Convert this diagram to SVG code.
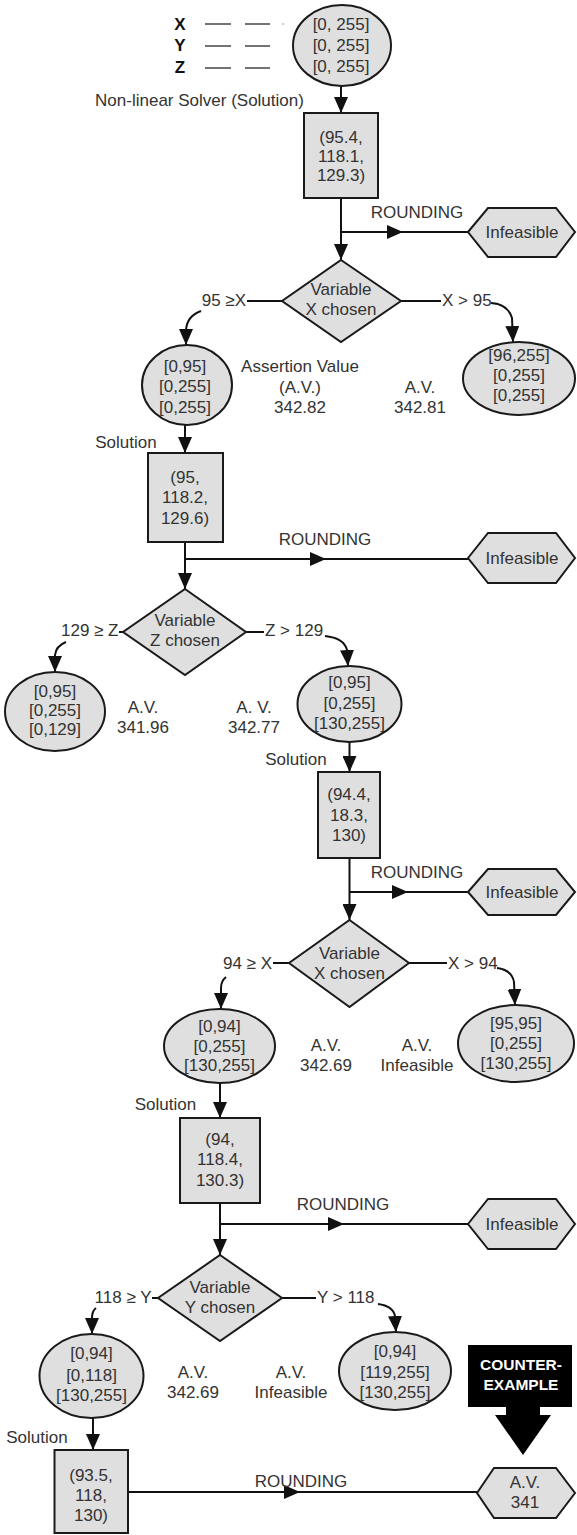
<svg xmlns="http://www.w3.org/2000/svg" width="577" height="1535" viewBox="0 0 577 1535">
<defs>
<style>
.t{font-family:"Liberation Sans",Arial,sans-serif;font-size:17px;fill:#333;text-anchor:middle}
.s{fill:#dfdfdf;stroke:#1a1a1a;stroke-width:2}
.c{fill:none;stroke:#111;stroke-width:2}
.leg{stroke:#444;stroke-width:1.5}
.b{font-family:"Liberation Sans",Arial,sans-serif;font-size:17px;font-weight:bold;fill:#111;text-anchor:middle}
.w{font-family:"Liberation Sans",Arial,sans-serif;font-size:15.5px;font-weight:bold;fill:#fff;text-anchor:middle}
</style>
<marker id="ah" viewBox="0 0 16 14" refX="16" refY="7" markerWidth="16" markerHeight="14" markerUnits="userSpaceOnUse" orient="auto"><path d="M0,0 L16,7 L0,14 z" fill="#111"/></marker>
</defs>
<rect width="577" height="1535" fill="#fff"/>

<g id="legend">
<text class="b" x="180" y="30">X</text>
<text class="b" x="180" y="51">Y</text>
<text class="b" x="180" y="73">Z</text>
<line class="leg" x1="205" y1="24" x2="231" y2="24"/><line class="leg" x1="245" y1="24" x2="270" y2="24"/><circle cx="283" cy="24" r="0.8" fill="#999"/>
<line class="leg" x1="205" y1="46" x2="231" y2="46"/><line class="leg" x1="245" y1="46" x2="270" y2="46"/>
<line class="leg" x1="205" y1="68" x2="231" y2="68"/><line class="leg" x1="245" y1="68" x2="270" y2="68"/>
</g>

<g id="connectors">
<line class="c" x1="341" y1="86" x2="341" y2="113" marker-end="url(#ah)"/>
<line class="c" x1="341" y1="198" x2="341" y2="260" marker-end="url(#ah)"/>
<polyline class="c" points="341,232 403,232 468,232" marker-mid="url(#ah)"/>
<line class="c" x1="247" y1="301" x2="282" y2="301"/>
<line class="c" x1="401" y1="301" x2="441" y2="301"/>
<path class="c" d="M201 311 Q187 316 186 330 L186 345" marker-end="url(#ah)"/>
<path class="c" d="M491 303 Q508 304 512 318 L513 342" marker-end="url(#ah)"/>
<line class="c" x1="185" y1="425" x2="185" y2="453" marker-end="url(#ah)"/>
<line class="c" x1="185" y1="542" x2="185" y2="589" marker-end="url(#ah)"/>
<polyline class="c" points="185,559 326,559 468,559" marker-mid="url(#ah)"/>
<line class="c" x1="119" y1="632" x2="123" y2="632"/>
<line class="c" x1="246" y1="632" x2="264" y2="632"/>
<path class="c" d="M66 642 Q56 646 55 655 L55 672" marker-end="url(#ah)"/>
<path class="c" d="M325 636 Q344 638 347 650 L348 666" marker-end="url(#ah)"/>
<line class="c" x1="349.5" y1="742" x2="349.5" y2="772" marker-end="url(#ah)"/>
<line class="c" x1="349.5" y1="858" x2="349.5" y2="920" marker-end="url(#ah)"/>
<polyline class="c" points="349.5,892 408,892 468,892" marker-mid="url(#ah)"/>
<line class="c" x1="273" y1="963" x2="289" y2="963"/>
<line class="c" x1="409" y1="963" x2="447" y2="963"/>
<path class="c" d="M226 977 Q221 981 221 988 L221 1009" marker-end="url(#ah)"/>
<path class="c" d="M497 968 Q512 970 514 982 L515 1005" marker-end="url(#ah)"/>
<line class="c" x1="220" y1="1083" x2="220" y2="1118" marker-end="url(#ah)"/>
<line class="c" x1="220" y1="1203" x2="220" y2="1255" marker-end="url(#ah)"/>
<polyline class="c" points="220,1224 344,1224 468,1224" marker-mid="url(#ah)"/>
<line class="c" x1="152" y1="1298" x2="158" y2="1298"/>
<line class="c" x1="282" y1="1298" x2="316" y2="1298"/>
<path class="c" d="M96 1308 Q92 1311 92 1318 L92 1334" marker-end="url(#ah)"/>
<path class="c" d="M378 1304 Q393 1306 395 1316 L396 1332" marker-end="url(#ah)"/>
<line class="c" x1="93" y1="1418" x2="93" y2="1450" marker-end="url(#ah)"/>
<polyline class="c" points="128,1492 300,1492 477,1492" marker-mid="url(#ah)"/>
</g>

<g id="n0"><ellipse class="s" cx="342" cy="45.5" rx="49" ry="40.5"/>
<text class="t" x="341" y="30">[0, 255]</text><text class="t" x="341" y="51">[0, 255]</text><text class="t" x="341" y="72">[0, 255]</text></g>
<text class="t" x="199.5" y="106">Non-linear Solver (Solution)</text>

<g id="r1"><rect class="s" x="304" y="113" width="74" height="85"/>
<text class="t" x="341" y="143">(95.4,</text><text class="t" x="341" y="162">118.1,</text><text class="t" x="341" y="181">129.3)</text></g>
<text class="t" x="417" y="218">ROUNDING</text>
<g id="h1"><polygon class="s" points="468,232 488,208 556,208 575,232 556,257 488,257"/><text class="t" x="522" y="238">Infeasible</text></g>

<g id="d1"><polygon class="s" points="341,260 401,301 341,342 282,301"/>
<text class="t" x="341" y="295">Variable</text><text class="t" x="341" y="315">X chosen</text></g>
<text class="t" x="246" y="306" style="text-anchor:end">95 ≥X</text>
<text class="t" x="442" y="306" style="text-anchor:start">X &gt; 95</text>

<g id="e1L"><ellipse class="s" cx="187" cy="385" rx="45" ry="40"/>
<text class="t" x="185" y="372">[0,95]</text><text class="t" x="185" y="392">[0,255]</text><text class="t" x="185" y="413">[0,255]</text></g>
<g id="e1R"><ellipse class="s" cx="519" cy="378.5" rx="56" ry="36.5"/>
<text class="t" x="519" y="361">[96,255]</text><text class="t" x="519" y="381">[0,255]</text><text class="t" x="519" y="401">[0,255]</text></g>
<text class="t" x="300" y="372">Assertion Value</text><text class="t" x="300" y="393">(A.V.)</text><text class="t" x="300" y="413">342.82</text>
<text class="t" x="420" y="393">A.V.</text><text class="t" x="420" y="413">342.81</text>

<text class="t" x="126" y="448">Solution</text>
<g id="r2"><rect class="s" x="148" y="453" width="75" height="89"/>
<text class="t" x="185" y="483">(95,</text><text class="t" x="185" y="503">118.2,</text><text class="t" x="185" y="524">129.6)</text></g>
<text class="t" x="325" y="545">ROUNDING</text>
<g id="h2"><polygon class="s" points="468,558 488,533 556,533 575,558 556,583 488,583"/><text class="t" x="522" y="564">Infeasible</text></g>

<g id="d2"><polygon class="s" points="185,589 246,632 185,675 123,632"/>
<text class="t" x="185" y="626">Variable</text><text class="t" x="185" y="646">Z chosen</text></g>
<text class="t" x="118.5" y="636" style="text-anchor:end">129 ≥ Z</text>
<text class="t" x="265" y="636" style="text-anchor:start">Z &gt; 129</text>

<g id="e2L"><ellipse class="s" cx="55" cy="711.5" rx="50" ry="39.5"/>
<text class="t" x="55" y="697">[0,95]</text><text class="t" x="55" y="716">[0,255]</text><text class="t" x="55" y="735">[0,129]</text></g>
<text class="t" x="143" y="713">A.V.</text><text class="t" x="143" y="733">341.96</text>
<text class="t" x="254" y="713">A. V.</text><text class="t" x="254" y="733">342.77</text>
<g id="e2R"><ellipse class="s" cx="349.5" cy="704" rx="52" ry="38"/>
<text class="t" x="349.5" y="688">[0,95]</text><text class="t" x="349.5" y="709">[0,255]</text><text class="t" x="349.5" y="729">[130,255]</text></g>

<text class="t" x="296" y="765">Solution</text>
<g id="r3"><rect class="s" x="318" y="772" width="62" height="86"/>
<text class="t" x="349" y="800">(94.4,</text><text class="t" x="349" y="821">18.3,</text><text class="t" x="349" y="841">130)</text></g>
<text class="t" x="417" y="878">ROUNDING</text>
<g id="h3"><polygon class="s" points="468,892 488,869 556,869 575,892 556,915 488,915"/><text class="t" x="522" y="898">Infeasible</text></g>

<g id="d3"><polygon class="s" points="349.5,920 409,963 349.5,1007 289,963"/>
<text class="t" x="349.5" y="959">Variable</text><text class="t" x="349.5" y="979">X chosen</text></g>
<text class="t" x="272" y="969" style="text-anchor:end">94 ≥ X</text>
<text class="t" x="448" y="969" style="text-anchor:start">X &gt; 94</text>

<g id="e3L"><ellipse class="s" cx="219.5" cy="1046" rx="55.5" ry="37"/>
<text class="t" x="219.5" y="1032">[0,94]</text><text class="t" x="219.5" y="1052">[0,255]</text><text class="t" x="219.5" y="1071">[130,255]</text></g>
<text class="t" x="326" y="1051">A.V.</text><text class="t" x="326" y="1071">342.69</text>
<text class="t" x="417" y="1051">A.V.</text><text class="t" x="417" y="1071">Infeasible</text>
<g id="e3R"><ellipse class="s" cx="516" cy="1043.5" rx="58" ry="38.5"/>
<text class="t" x="516" y="1029">[95,95]</text><text class="t" x="516" y="1049">[0,255]</text><text class="t" x="516" y="1069">[130,255]</text></g>

<text class="t" x="165.5" y="1110">Solution</text>
<g id="r4"><rect class="s" x="180" y="1118" width="80" height="85"/>
<text class="t" x="220" y="1145">(94,</text><text class="t" x="220" y="1165">118.4,</text><text class="t" x="220" y="1186">130.3)</text></g>
<text class="t" x="343" y="1210">ROUNDING</text>
<g id="h4"><polygon class="s" points="468,1224 488,1199 556,1199 575,1224 556,1249 488,1249"/><text class="t" x="522" y="1230">Infeasible</text></g>

<g id="d4"><polygon class="s" points="220,1255 282,1298 220,1341 158,1298"/>
<text class="t" x="220" y="1293">Variable</text><text class="t" x="220" y="1313">Y chosen</text></g>
<text class="t" x="151.5" y="1303" style="text-anchor:end">118 ≥ Y</text>
<text class="t" x="317" y="1303" style="text-anchor:start">Y &gt; 118</text>

<g id="e4L"><ellipse class="s" cx="91.5" cy="1376" rx="52" ry="42"/>
<text class="t" x="91.5" y="1359">[0,94]</text><text class="t" x="91.5" y="1381">[0,118]</text><text class="t" x="91.5" y="1401">[130,255]</text></g>
<text class="t" x="193" y="1378">A.V.</text><text class="t" x="193" y="1398">342.69</text>
<text class="t" x="291" y="1378">A.V.</text><text class="t" x="291" y="1398">Infeasible</text>
<g id="e4R"><ellipse class="s" cx="395" cy="1371" rx="56" ry="39"/>
<text class="t" x="395" y="1357">[0,94]</text><text class="t" x="395" y="1378">[119,255]</text><text class="t" x="395" y="1398">[130,255]</text></g>

<g id="counter"><rect x="468" y="1345" width="104" height="62" fill="#000"/>
<text class="w" x="521" y="1370">COUNTER-</text><text class="w" x="521" y="1390">EXAMPLE</text>
<polygon points="506,1406 540,1406 540,1415 551,1415 523,1455 495,1415 506,1415" fill="#000"/></g>

<text class="t" x="37" y="1443">Solution</text>
<g id="r5"><rect class="s" x="54.5" y="1450" width="73.5" height="83"/>
<text class="t" x="91" y="1481">(93.5,</text><text class="t" x="91" y="1501">118,</text><text class="t" x="91" y="1521">130)</text></g>
<text class="t" x="301" y="1487">ROUNDING</text>
<g id="h5"><polygon class="s" points="477,1493 494,1468 556,1468 575,1493 556,1518 494,1518"/>
<text class="t" x="525" y="1488">A.V.</text><text class="t" x="525" y="1508">341</text></g>
</svg>
